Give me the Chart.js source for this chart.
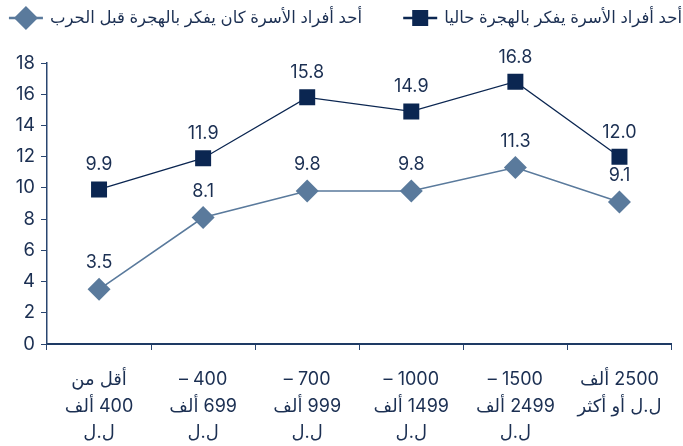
<!DOCTYPE html>
<html>
<head>
<meta charset="utf-8">
<script src="https://cdn.jsdelivr.net/npm/chart.js@4.4.1/dist/chart.umd.min.js"></script>
<style>
  html, body { margin: 0; padding: 0; background: #fff; }
  #wrap { width: 683px; height: 446px; }
</style>
</head>
<body>
<div id="wrap"><canvas id="chart" dir="rtl"></canvas></div>
<script>
const categories = [
  ["أقل من", "400 ألف", "ل.ل"],
  ["400 –", "699 ألف", "ل.ل"],
  ["700 –", "999 ألف", "ل.ل"],
  ["1000 –", "1499 ألف", "ل.ل"],
  ["1500 –", "2499 ألف", "ل.ل"],
  ["2500 ألف", "ل.ل أو أكثر"],
];
const seriesNames = [
  "أحد أفراد الأسرة يفكر بالهجرة حاليا",
  "أحد أفراد الأسرة كان يفكر بالهجرة قبل الحرب",
];
const nowValues = [9.9, 11.9, 15.8, 14.9, 16.8, 12.0];
const beforeWarValues = [3.5, 8.1, 9.8, 9.8, 11.3, 9.1];
const yTicks = [0, 2, 4, 6, 8, 10, 12, 14, 16, 18];

const NAVY = "#0b2651";
const STEEL = "#5a7a9c";
const TEXT = "#1b2f52";
const FONT = 'Inter, "DejaVu Sans", sans-serif';

// point values written above each marker
const valueLabels = {
  id: "valueLabels",
  afterDatasetsDraw(chart) {
    const ctx = chart.ctx;
    ctx.save();
    ctx.fillStyle = TEXT;
    ctx.font = "18px " + FONT;
    ctx.textAlign = "center";
    ctx.textBaseline = "alphabetic";
    chart.data.datasets.forEach((ds, i) => {
      chart.getDatasetMeta(i).data.forEach((pt, j) => {
        ctx.fillText(ds.data[j].toFixed(1), pt.x, pt.y - (i === 0 ? 19 : 21));
      });
    });
    ctx.restore();
  },
};

// legend on top, marker left of the text
const topLegend = {
  id: "topLegend",
  afterDraw(chart) {
    const ctx = chart.ctx;
    const anchors = [682, 362];
    ctx.save();
    ctx.font = "16.5px " + FONT;
    ctx.textBaseline = "middle";
    ctx.textAlign = "right";
    chart.data.datasets.forEach((ds, i) => {
      const y = 18;
      const right = anchors[i];
      ctx.fillStyle = TEXT;
      ctx.fillText(ds.label, right, y);
      const w = ctx.measureText(ds.label).width;
      const cx = right - w - 24;
      ctx.strokeStyle = ds.borderColor;
      ctx.lineWidth = 2.5;
      ctx.beginPath();
      ctx.moveTo(cx - 17, y);
      ctx.lineTo(cx + 17, y);
      ctx.stroke();
      ctx.fillStyle = ds.backgroundColor;
      ctx.beginPath();
      if (i === 0) {
        ctx.rect(cx - 8, y - 8, 16, 16);
      } else {
        ctx.moveTo(cx - 12, y);
        ctx.lineTo(cx, y - 12);
        ctx.lineTo(cx + 12, y);
        ctx.lineTo(cx, y + 12);
        ctx.closePath();
      }
      ctx.fill();
    });
    ctx.restore();
  },
};

new Chart(document.getElementById("chart"), {
  type: "line",
  data: {
    labels: categories,
    datasets: [
      {
        label: seriesNames[0],
        data: nowValues,
        borderColor: NAVY,
        backgroundColor: NAVY,
        borderWidth: 1.3,
        pointStyle: "rect",
        pointRadius: 11.3,
        pointBorderWidth: 0,
        tension: 0,
      },
      {
        label: seriesNames[1],
        data: beforeWarValues,
        borderColor: STEEL,
        backgroundColor: STEEL,
        borderWidth: 1.6,
        pointStyle: "rectRot",
        pointRadius: 11.5,
        pointBorderWidth: 0,
        tension: 0,
      },
    ],
  },
  options: {
    responsive: true,
    maintainAspectRatio: false,
    animation: false,
    layout: { padding: { top: 63, right: 6, left: 0, bottom: 0 } },
    plugins: {
      legend: { display: false },
      tooltip: { enabled: false },
    },
    scales: {
      x: {
        offset: true,
        grid: {
          offset: true,
          drawOnChartArea: false,
          drawTicks: true,
          tickLength: 6,
          color: "#2a4670",
          lineWidth: 1,
        },
        border: { color: "#1e3a64", width: 2 },
        ticks: {
          color: TEXT,
          font: { size: 18, family: FONT, lineHeight: 1.45 },
          padding: 17,
          maxRotation: 0,
          autoSkip: false,
        },
        afterFit(scale) { scale.height = 102; },
      },
      y: {
        min: 0,
        max: 18,
        afterBuildTicks(scale) { scale.ticks = yTicks.map(v => ({ value: v })); },
        grid: {
          drawOnChartArea: false,
          drawTicks: true,
          tickLength: 6,
          color: "#2a4670",
        },
        border: { color: "#2a4670", width: 1.5 },
        ticks: {
          color: TEXT,
          font: { size: 18.5, family: FONT },
          padding: 6,
        },
        afterFit(scale) { scale.width = 47; },
      },
    },
  },
  plugins: [valueLabels, topLegend],
});
</script>
</body>
</html>
